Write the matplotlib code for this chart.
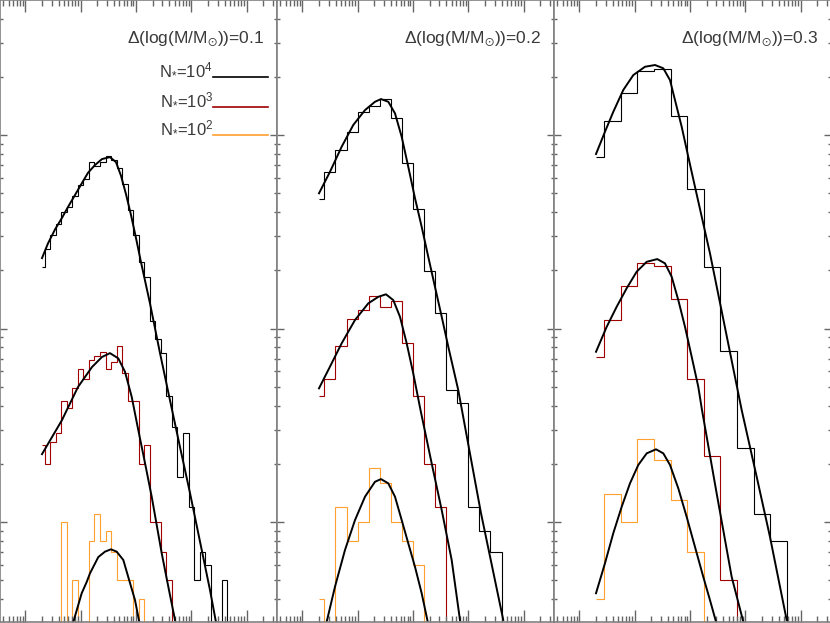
import numpy as np
import matplotlib.pyplot as plt
from matplotlib.ticker import LogLocator, NullFormatter

plt.rcParams['font.family'] = ['Liberation Sans', 'DejaVu Sans']
plt.rcParams['mathtext.fontset'] = 'custom'
plt.rcParams['mathtext.rm'] = 'Liberation Sans'
plt.rcParams['mathtext.it'] = 'Liberation Sans'
plt.rcParams['mathtext.fallback'] = 'stixsans'

# histogram bins: first bin centre at log10(M/Msun) = -1.7, width per panel
LOGM_FIRST = -1.7
BIN_WIDTHS = [0.1, 0.2, 0.3]
PANEL_LABELS = ['Δ(log(M/M$_{\\odot}$))=0.1',
                'Δ(log(M/M$_{\\odot}$))=0.2',
                'Δ(log(M/M$_{\\odot}$))=0.3']
SAMPLE_LABELS = ['N$_{*}$=10$^{4}$', 'N$_{*}$=10$^{3}$', 'N$_{*}$=10$^{2}$']

# number of stars per bin (N=1e4, 1e3, 1e2) for each bin width
black1 = [208, 258, 304, 347, 400, 425, 484, 555, 595, 728, 690, 728, 782, 745, 675, 560, 410, 304,
          221, 185, 109, 88, 75, 45, 31, 17, 29, 12, 5, 7, 6, 3, 2, 5, 2, 1, 1]
red1 = [25, 20, 26, 29, 42, 39, 49, 62, 55, 69, 72, 76, 62, 67, 81, 59, 42, 42, 20, 25, 10, 10, 7, 5,
        2, 1, 2, 0, 0, 1, 0, 0, 1]
orange1 = [2, 2, 0, 2, 10, 2, 5, 3, 2, 8, 11, 8, 9, 7, 5, 5, 5, 3, 4, 2, 1, 1, 1, 0, 1, 0, 1, 0]

black2 = [467, 646, 836, 1040, 1320, 1413, 1529, 1220, 714, 413, 198, 120, 48, 41, 12, 9, 7, 3, 1]
red2 = [45, 55, 81, 112, 125, 148, 129, 139, 84, 45, 20, 12, 3, 2, 1, 0, 1]
orange2 = [4, 2, 12, 8, 10, 19, 16, 10, 8, 6, 2, 1, 1, 1]

black3 = [773, 1181, 1643, 2149, 2185, 1258, 524, 209, 77, 24, 11, 8, 1]
red3 = [71, 111, 166, 217, 210, 142, 55, 22, 5, 1, 1]
orange3 = [4, 14, 10, 27, 21, 13, 7, 2, 2]

# fitted curves as log10(M) / log10(N)
fit1_black_logm = [-1.698, -1.590, -1.463, -1.337, -1.229, -1.102, -0.976, -0.867, -0.741, -0.614, -0.470,
                   -0.361, -0.271, -0.181, -0.090, 0.000, 0.090, 0.253, 0.434, 0.614, 0.795, 0.976, 1.156,
                   1.337, 1.445]
fit1_black_logn = [2.364, 2.440, 2.512, 2.572, 2.628, 2.690, 2.752, 2.805, 2.845, 2.876, 2.886,
                   2.860, 2.790, 2.695, 2.587, 2.468, 2.344, 2.130, 1.873, 1.630, 1.388, 1.150, 0.900,
                   0.649, 0.483]
fit1_red_logm = [-1.698, -1.337, -1.048, -0.795, -0.614, -0.470, -0.320, -0.199, -0.078, 0.042, 0.163,
                 0.284, 0.464, 0.584, 0.705]
fit1_red_logn = [1.351, 1.527, 1.698, 1.801, 1.853, 1.873, 1.846, 1.777, 1.648, 1.475, 1.305,
                 1.131, 0.840, 0.666, 0.494]
fit1_orange_logm = [-1.133, -0.981, -0.891, -0.831, -0.681, -0.560, -0.452, -0.349, -0.229, -0.108,
                    -0.018, 0.060]
fit1_orange_logn = [0.483, 0.632, 0.690, 0.735, 0.819, 0.847, 0.859, 0.847, 0.804, 0.685, 0.597, 0.483]

fit2_black_logm = [-1.698, -1.500, -1.288, -1.079, -0.867, -0.687, -0.578, -0.446, -0.325, -0.204,
                   -0.085, 0.036, 0.157, 0.276, 0.397, 0.519, 0.638, 0.818, 1.228, 1.631]
fit2_black_logn = [2.699, 2.810, 2.940, 3.052, 3.129, 3.172, 3.186, 3.172, 3.112, 2.991,
                   2.836, 2.674, 2.526, 2.371, 2.216, 2.061, 1.906, 1.682, 1.047, 0.494]
fit2_red_logm = [-1.698, -1.500, -1.288, -1.048, -0.808, -0.627, -0.488, -0.356, -0.235, -0.114,
                 0.005, 0.136, 0.338, 0.519, 0.699, 0.849]
fit2_red_logn = [1.691, 1.803, 1.924, 2.044, 2.130, 2.164, 2.177, 2.147, 2.061, 1.924,
                 1.768, 1.579, 1.303, 1.062, 0.804, 0.494]
fit2_orange_logm = [-1.559, -1.409, -1.229, -1.048, -0.867, -0.687, -0.578, -0.446, -0.325, -0.204,
                    -0.085, 0.036, 0.157, 0.266]
fit2_orange_logn = [0.485, 0.666, 0.855, 1.010, 1.131, 1.208, 1.222, 1.200, 1.131, 1.010,
                    0.890, 0.769, 0.632, 0.485]

fit3_black_logm = [-1.698, -1.536, -1.386, -1.205, -1.024, -0.813, -0.632, -0.482, -0.361, -0.271,
                   -0.150, -0.031, 0.090, 0.361, 0.934, 1.205, 1.445, 1.747]
fit3_black_logn = [2.902, 3.017, 3.120, 3.233, 3.310, 3.353, 3.362, 3.345, 3.284, 3.181,
                   3.043, 2.888, 2.733, 2.389, 1.579, 1.234, 0.924, 0.494]
fit3_red_logm = [-1.698, -1.505, -1.324, -1.144, -0.963, -0.782, -0.591, -0.452, -0.331, -0.211,
                 -0.090, 0.031, 0.150, 0.217, 0.482, 0.753, 0.963]
fit3_red_logn = [1.880, 2.009, 2.113, 2.208, 2.294, 2.345, 2.359, 2.337, 2.268, 2.147,
                 2.009, 1.854, 1.699, 1.579, 1.148, 0.717, 0.485]
fit3_orange_logm = [-1.698, -1.536, -1.386, -1.234, -1.084, -0.934, -0.782, -0.614, -0.482, -0.361,
                    -0.211, -0.060, 0.090, 0.240, 0.361, 0.470]
fit3_orange_logn = [0.632, 0.787, 0.942, 1.079, 1.200, 1.295, 1.355, 1.376, 1.355, 1.295,
                    1.174, 1.027, 0.872, 0.717, 0.597, 0.485]

HISTS = [[black1, red1, orange1], [black2, red2, orange2], [black3, red3, orange3]]
FITS = [[(fit1_black_logm, fit1_black_logn), (fit1_red_logm, fit1_red_logn), (fit1_orange_logm, fit1_orange_logn)],
        [(fit2_black_logm, fit2_black_logn), (fit2_red_logm, fit2_red_logn), (fit2_orange_logm, fit2_orange_logn)],
        [(fit3_black_logm, fit3_black_logn), (fit3_red_logm, fit3_red_logn), (fit3_orange_logm, fit3_orange_logn)]]
COLORS = ['black', '#a00000', '#ffa030']

XLIM = (10 ** -2.457, 10 ** 2.548)
YLIM = (10 ** 0.486, 10 ** 3.698)

W, H = 830, 623
fig = plt.figure(figsize=(W / 100, H / 100), dpi=100)
panel_left = [0, 277, 554]

for i in range(3):
    ax = fig.add_axes([panel_left[i] / W, (H - 621.5) / H, 277 / W, 621.5 / H])
    ax.set_xscale('log')
    ax.set_yscale('log')
    ax.set_xlim(*XLIM)
    ax.set_ylim(*YLIM)

    dlog = BIN_WIDTHS[i]
    # histograms drawn IDL psym=10 style: steps centred on bins, half steps at the ends
    for counts, col in zip(HISTS[i], COLORS):
        centres = LOGM_FIRST + dlog * np.arange(len(counts))
        edges = np.concatenate([[centres[0]], centres[:-1] + dlog / 2, [centres[-1]]])
        vals = np.clip(np.array(counts, dtype=float), YLIM[0], None)
        ax.stairs(vals, 10 ** edges, baseline=None, color=col, lw=0.8)

    for lm, ln in FITS[i]:
        ax.plot(10 ** np.array(lm), 10 ** np.array(ln), color='black', lw=1.4)

    ax.text(0.952, 0.936, PANEL_LABELS[i], transform=ax.transAxes, ha='right', va='center',
            fontsize=12.5, color='#3a3a3a')

    # axes styling: ticks inside on every side, no labels
    ax.xaxis.set_major_locator(LogLocator(base=10, numticks=20))
    ax.xaxis.set_minor_locator(LogLocator(base=10, subs=np.arange(2, 10), numticks=20))
    ax.yaxis.set_major_locator(LogLocator(base=10, numticks=20))
    ax.yaxis.set_minor_locator(LogLocator(base=10, subs=np.arange(2, 10), numticks=20))
    ax.xaxis.set_minor_formatter(NullFormatter())
    ax.yaxis.set_minor_formatter(NullFormatter())
    ax.tick_params(which='both', direction='in', top=True, right=True,
                   labelbottom=False, labelleft=False, color='#666666', width=1.0)
    ax.tick_params(axis='x', which='major', length=8.5)
    ax.tick_params(axis='x', which='minor', length=4)
    ax.tick_params(axis='y', which='major', length=5)
    ax.tick_params(axis='y', which='minor', length=2.5)
    for sp in ax.spines.values():
        sp.set_color('#808080')
        sp.set_linewidth(1.2)

    if i == 0:
        for label, col, y in zip(SAMPLE_LABELS, COLORS, [0.8766, 0.8283, 0.7828]):
            ax.plot([0.769, 0.9675], [y, y], transform=ax.transAxes, color=col, lw=1.2, clip_on=False)
            ax.text(0.769, y + 0.002, label, transform=ax.transAxes, ha='right', va='baseline',
                    fontsize=12, color='#3a3a3a')

fig.savefig('out.png', dpi=100)
